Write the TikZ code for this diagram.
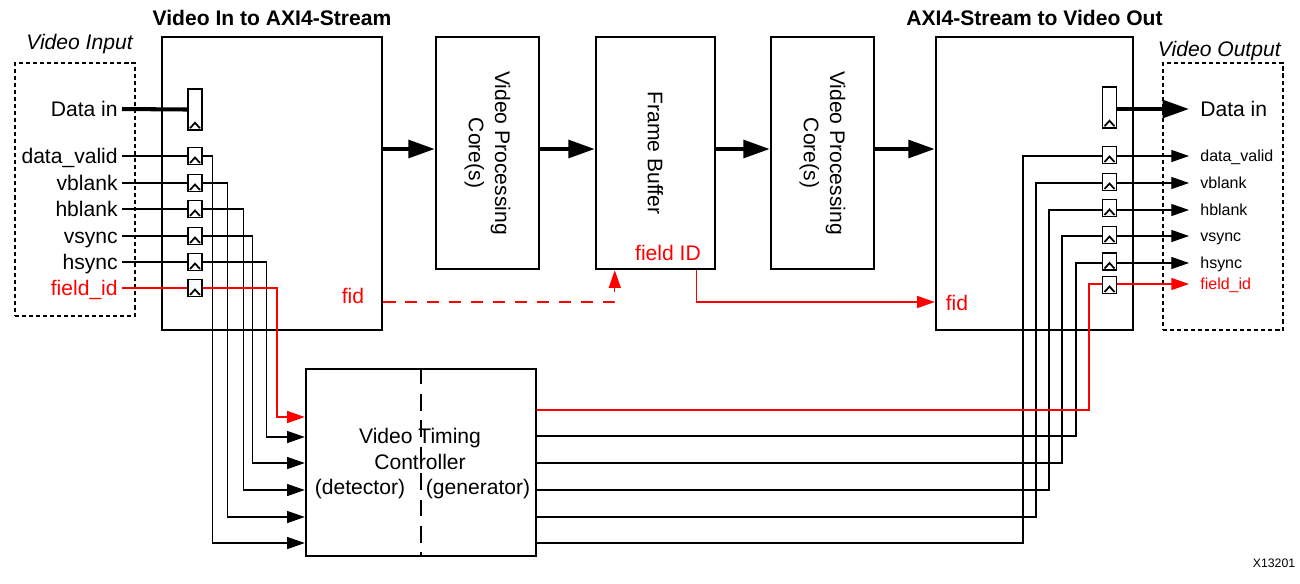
\documentclass[tikz,border=0pt]{standalone}
\usepackage{fontspec}
\setmainfont{Liberation Sans}
\usetikzlibrary{positioning, fit, calc, arrows.meta}

\begin{document}
\begin{tikzpicture}[x=0.02cm, y=-0.02cm, >={Triangle[length=10pt, width=6.8pt]},
  block/.style={draw, line width=1.4pt, inner sep=0pt},
  frame/.style={draw, line width=0.6pt, dash pattern=on 2.3pt off 1.7pt, inner sep=0pt},
  title/.style={font=\fontsize{12}{14}\selectfont\bfseries, inner sep=0pt},
  big/.style={font=\fontsize{12}{15}\selectfont, align=center},
  reg/.style={draw, line width=1.1pt, inner sep=0pt, minimum width=0.28cm, minimum height=0.34cm,
    path picture={\draw[line width=1pt] ($(path picture bounding box.south west)+(2,-1.5)$)
      -- ($(path picture bounding box.south)+(0,-7)$) -- ($(path picture bounding box.south east)+(-2,-1.5)$);}},
  datareg/.style={reg, minimum height=0.81cm},
  inlbl/.style={font=\fontsize{12}{14}\selectfont, text height=8.6pt, text depth=0pt, inner xsep=0.08cm, inner ysep=0pt, anchor=east},
  outlbl/.style={font=\fontsize{9.1}{11}\selectfont, text height=6.5pt, text depth=0pt, inner xsep=0.22cm, inner ysep=0pt, anchor=west},
  outbig/.style={outlbl, font=\fontsize{12}{14}\selectfont, text height=8.6pt},
  sig/.style={line width=0.6pt},
  redsig/.style={draw=red, line width=0.8pt},
  bus/.style={line width=2.3pt, -{Triangle[length=15pt, width=10pt]}},
  divider/.style={line width=1.3pt, dash pattern=on 9.5pt off 5.5pt}]
  \useasboundingbox (0,0) rectangle (1300,583);

  % main blocks
  \node[frame, fit={(15,63) (135,316)}] (vidin) {};
  \node[frame, fit={(1163,63) (1283,330)}] (vidout) {};
  \node[block, fit={(162,37) (382,330)}] (vin) {};
  \node[block, fit={(436,37) (539,269)}] (vpcA) {};
  \node[block, fit={(596,37) (715,269)}] (fb) {};
  \node[block, fit={(771,37) (874,269)}] (vpcB) {};
  \node[block, fit={(936,37) (1133,330)}] (vout) {};
  \node[block, fit={(306,369) (536,556)}] (vtc) {};

  \node[title, above=0.2cm of vin] (vintitle) {Video In to AXI4-Stream};
  \node[title, above=0.2cm of vout] (vouttitle) {AXI4-Stream to Video Out};
  \node[big, anchor=base east, inner sep=0pt] (vidintitle) at (133,49) {\itshape Video Input};
  \node[big, anchor=base east, inner sep=0pt] (vidouttitle) at (1281,56) {\itshape Video Output};
  \node[big, rotate=-90] (vpcAtext) at (vpcA.center) {Video Processing\\Core(s)};
  \node[big, rotate=-90] (fbtext) at (fb.center) {Frame Buffer};
  \node[big, rotate=-90] (vpcBtext) at (vpcB.center) {Video Processing\\Core(s)};
  \node[big, text=red] (fbfid) at (668,253) {field ID};
  \node[big, text=red] (vinfid) at (353,296) {fid};
  \node[big, text=red] (voutfid) at (957,303) {fid};
  \node[big] (vtctext) at (420,449) {Video Timing\\Controller};
  \node[big] (detector) at (360,489) {(detector)};
  \node[big] (generator) at (478,489) {(generator)};
  \node[font=\fontsize{7}{8}\selectfont] (figid) at (1274,563) {X13201};
  \draw[divider] (vtc.north) -- (vtc.south);

  % input side
  \node[inlbl] (ldata) at (122,109) {Data in};
  \node[inlbl] (ldv) at (122,156) {data\_valid};
  \node[inlbl] (lvb) at (122,183) {vblank};
  \node[inlbl] (lhb) at (122,209) {hblank};
  \node[inlbl] (lvs) at (122,236) {vsync};
  \node[inlbl] (lhs) at (122,262) {hsync};
  \node[inlbl, text=red] (lfi) at (122,288) {field\_id};
  \node[datareg] (ldatareg) at (195,109.5) {};
  \node[reg] (ldvreg) at (195,156) {};
  \node[reg] (lvbreg) at (195,183) {};
  \node[reg] (lhbreg) at (195,209) {};
  \node[reg] (lvsreg) at (195,236) {};
  \node[reg] (lhsreg) at (195,262) {};
  \node[reg] (lfireg) at (195,288) {};

  \draw[line width=2.3pt] (ldata.east) -- (ldatareg.west);
  \draw[sig] (ldv.east) -- (ldvreg.west);
  \draw[sig] (lvb.east) -- (lvbreg.west);
  \draw[sig] (lhb.east) -- (lhbreg.west);
  \draw[sig] (lvs.east) -- (lvsreg.west);
  \draw[sig] (lhs.east) -- (lhsreg.west);
  \draw[redsig] (lfi.east) -- (lfireg.west);

  \draw[sig, ->] (ldvreg.east) -- ++(10,0) |- (vtc.west |- 0,543);
  \draw[sig, ->] (lvbreg.east) -- ++(25,0) |- (vtc.west |- 0,517);
  \draw[sig, ->] (lhbreg.east) -- ++(41,0) |- (vtc.west |- 0,490);
  \draw[sig, ->] (lvsreg.east) -- ++(50,0) |- (vtc.west |- 0,463);
  \draw[sig, ->] (lhsreg.east) -- ++(64,0) |- (vtc.west |- 0,437);
  \draw[redsig, ->] (lfireg.east) -- ++(74,0) |- (vtc.west |- 0,417);

  % output side
  \node[datareg] (rdatareg) at (1109.5,107.5) {};
  \node[reg] (rdvreg) at (1109.5,155) {};
  \node[reg] (rvbreg) at (1109.5,182) {};
  \node[reg] (rhbreg) at (1109.5,208) {};
  \node[reg] (rvsreg) at (1109.5,235) {};
  \node[reg] (rhsreg) at (1109.5,261.5) {};
  \node[reg] (rfireg) at (1109.5,285) {};
  \node[outbig] (rdata) at (1189,109) {Data in};
  \node[outlbl] (rdv) at (1189,156) {data\_valid};
  \node[outlbl] (rvb) at (1189,183) {vblank};
  \node[outlbl] (rhb) at (1189,210) {hblank};
  \node[outlbl] (rvs) at (1189,236) {vsync};
  \node[outlbl] (rhs) at (1189,263) {hsync};
  \node[outlbl, text=red] (rfi) at (1189,284) {field\_id};

  \draw[bus] (rdatareg.east |- rdata.west) -- (rdata.west);
  \draw[sig, ->] (rdvreg.east |- rdv.west) -- (rdv.west);
  \draw[sig, ->] (rvbreg.east |- rvb.west) -- (rvb.west);
  \draw[sig, ->] (rhbreg.east |- rhb.west) -- (rhb.west);
  \draw[sig, ->] (rvsreg.east |- rvs.west) -- (rvs.west);
  \draw[sig, ->] (rhsreg.east |- rhs.west) -- (rhs.west);
  \draw[redsig, ->] (rfireg.east |- rfi.west) -- (rfi.west);

  \draw[sig] (vtc.east |- 0,543) -| (1023,156) -- (rdvreg.west |- rdv.west);
  \draw[sig] (vtc.east |- 0,517) -| (1036,183) -- (rvbreg.west |- rvb.west);
  \draw[sig] (vtc.east |- 0,490) -| (1049,210) -- (rhbreg.west |- rhb.west);
  \draw[sig] (vtc.east |- 0,463) -| (1062,236) -- (rvsreg.west |- rvs.west);
  \draw[sig] (vtc.east |- 0,436) -| (1076,263) -- (rhsreg.west |- rhs.west);
  \draw[redsig] (vtc.east |- 0,410) -| (1089,284) -- (rfireg.west |- rfi.west);

  % video stream and field id
  \coordinate (mainrow) at (0,149);
  \coordinate (fidrow) at (0,302);
  \draw[bus] (vin.east |- mainrow) -- (vpcA.west |- mainrow);
  \draw[bus] (vpcA.east |- mainrow) -- (fb.west |- mainrow);
  \draw[bus] (fb.east |- mainrow) -- (vpcB.west |- mainrow);
  \draw[bus] (vpcB.east |- mainrow) -- (vout.west |- mainrow);
  \draw[redsig, dash pattern=on 7pt off 5.5pt, ->] (vin.east |- fidrow) -| ($(fb.south west)+(20,0)$);
  \draw[redsig, ->] ($(fb.south east)+(-20,0)$) |- (vout.west |- fidrow);
\end{tikzpicture}
\end{document}
